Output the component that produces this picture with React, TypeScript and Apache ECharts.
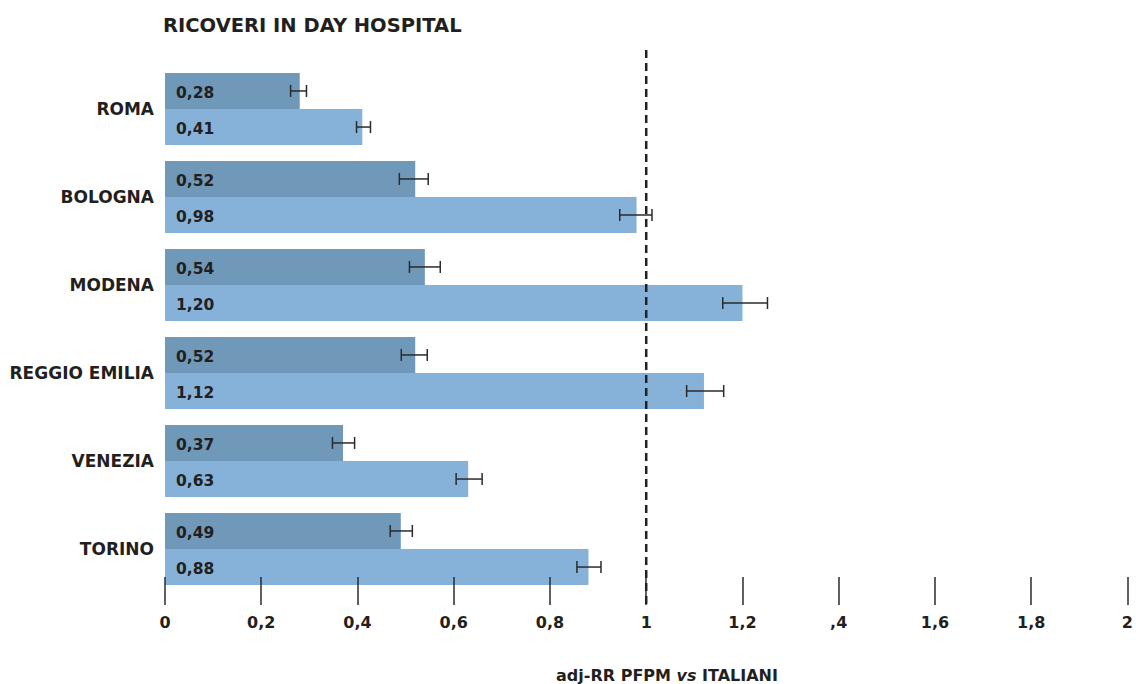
import React, { useEffect, useRef } from "react";
import * as echarts from "echarts";

const categories = ["ROMA", "BOLOGNA", "MODENA", "REGGIO EMILIA", "VENEZIA", "TORINO"];
const darkValues = [0.28, 0.52, 0.54, 0.52, 0.37, 0.49];
const lightValues = [0.41, 0.98, 1.2, 1.12, 0.63, 0.88];
const darkLow = [0.261, 0.487, 0.508, 0.491, 0.348, 0.468];
const darkHigh = [0.294, 0.547, 0.572, 0.545, 0.394, 0.514];
const lightLow = [0.398, 0.945, 1.159, 1.084, 0.605, 0.856];
const lightHigh = [0.427, 1.012, 1.252, 1.161, 0.659, 0.906];
const tickLabels = ["0", "0,2", "0,4", "0,6", "0,8", "1", "1,2", ",4", "1,6", "1,8", "2"];
const referenceValue = 1;
const titleText = "RICOVERI IN DAY HOSPITAL";

const FONT = "'DejaVu Sans', 'Noto Sans', sans-serif";
const TEXT = "#231f20";

export default function App() {
  const ref = useRef<HTMLDivElement>(null);
  useEffect(() => {
    document.body.style.margin = "0";
    const chart = echarts.init(ref.current!, null, { renderer: "svg" });
    const errData: any[] = [];
    categories.forEach((_, i) => {
      errData.push([i, darkLow[i], darkHigh[i], -1]);
      errData.push([i, lightLow[i], lightHigh[i], 1]);
    });
    const fmt = (p: any) => Number(p.value).toFixed(2).replace(".", ",");
    const labelStyle = {
      show: true,
      position: "insideLeft",
      distance: 11,
      offset: [0, 2],
      formatter: fmt,
      fontFamily: FONT,
      fontWeight: "bold",
      fontSize: 15.5,
      color: TEXT,
    };
    chart.setOption({
      animation: false,
      title: {
        text: titleText,
        left: 158,
        top: 10,
        textStyle: { fontFamily: FONT, fontWeight: "bold", fontSize: 19.5, color: TEXT },
      },
      grid: { left: 165, right: 5, top: 65, bottom: 91, containLabel: false },
      xAxis: {
        type: "value",
        min: 0,
        max: 2,
        interval: 0.2,
        offset: 12,
        z: 10,
        axisLine: { show: false },
        axisTick: { show: true, inside: true, length: 28, lineStyle: { color: "#2b2b2b", width: 1.5 } },
        splitLine: { show: false },
        axisLabel: {
          margin: 9,
          fontFamily: FONT,
          fontWeight: "bold",
          fontSize: 16,
          color: TEXT,
          formatter: (v: number) => tickLabels[Math.round(v / 0.2)] ?? "",
        },
      },
      yAxis: {
        type: "category",
        data: categories,
        inverse: true,
        axisLine: { show: false },
        axisTick: { show: false },
        axisLabel: { margin: 11, fontFamily: FONT, fontWeight: "bold", fontSize: 17, color: TEXT },
      },
      series: [
        {
          type: "bar",
          data: darkValues,
          barGap: "0%",
          barCategoryGap: "18%",
          itemStyle: { color: "#7098b8" },
          label: labelStyle,
        },
        {
          type: "bar",
          data: lightValues,
          barGap: "0%",
          barCategoryGap: "18%",
          itemStyle: { color: "#86b1d9" },
          label: labelStyle,
        },
        {
          type: "custom",
          z: 5,
          data: errData,
          encode: { x: [1, 2], y: 0 },
          renderItem: (params: any, api: any) => {
            const cat = api.value(0);
            const lo = api.coord([api.value(1), cat]);
            const hi = api.coord([api.value(2), cat]);
            const band = api.size([0, 1])[1];
            const y = lo[1] + api.value(3) * band * 0.205;
            const st = { stroke: "#2b2b2b", lineWidth: 1.5 };
            return {
              type: "group",
              children: [
                { type: "line", shape: { x1: lo[0], y1: y, x2: hi[0], y2: y }, style: st },
                { type: "line", shape: { x1: lo[0], y1: y - 6, x2: lo[0], y2: y + 6 }, style: st },
                { type: "line", shape: { x1: hi[0], y1: y - 6, x2: hi[0], y2: y + 6 }, style: st },
              ],
            };
          },
        },
      ],
    });
    const xRef = chart.convertToPixel({ xAxisIndex: 0 }, referenceValue) as number;
    chart.setOption({
      graphic: [
        {
          type: "line",
          z: 20,
          shape: { x1: xRef, y1: 50, x2: xRef, y2: 605 },
          style: { stroke: "#222", lineWidth: 2.5, lineDash: [8, 5] },
        },
        {
          type: "text",
          x: 667,
          y: 675,
          style: {
            text: "{b|adj-RR PFPM }{i|vs}{b| ITALIANI}",
            align: "center",
            verticalAlign: "middle",
            rich: {
              b: { fontFamily: FONT, fontWeight: "bold", fontSize: 16, fill: TEXT },
              i: { fontFamily: FONT, fontWeight: "bold", fontStyle: "italic", fontSize: 16, fill: TEXT },
            },
          },
        },
      ],
    });
    return () => chart.dispose();
  }, []);
  return <div ref={ref} style={{ width: 1136, height: 684 }} />;
}
